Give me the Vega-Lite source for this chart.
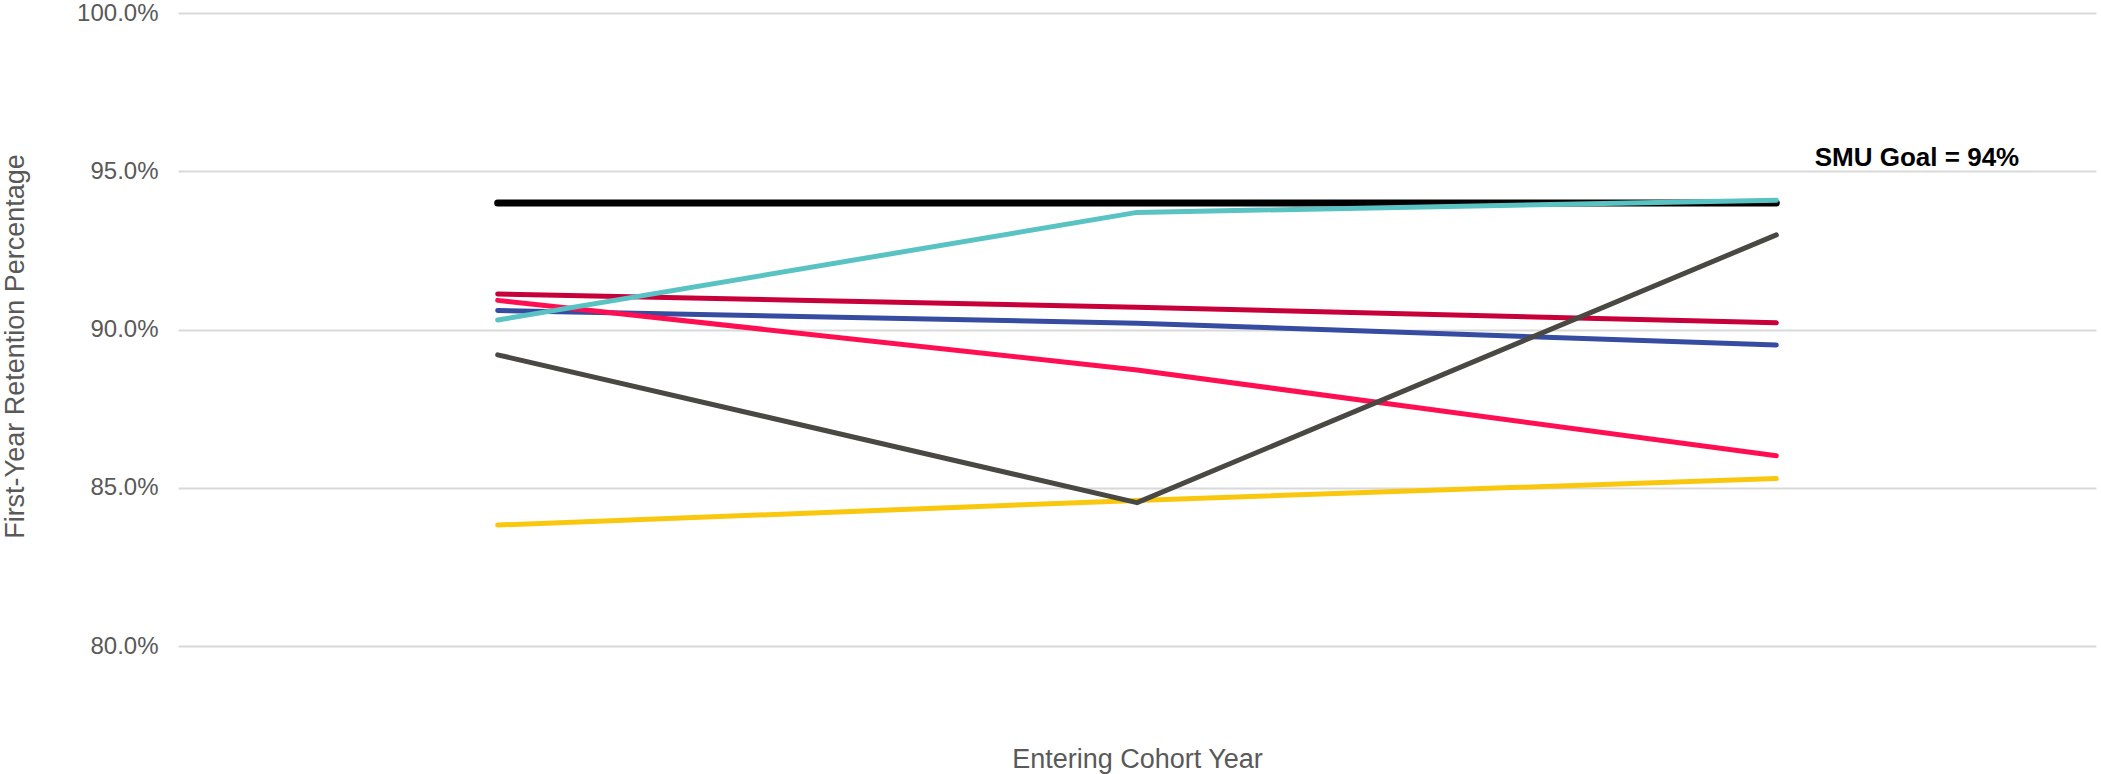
{
  "$schema": "https://vega.github.io/schema/vega-lite/v6.json",
  "width": 1918,
  "height": 633,
  "autosize": {"type": "none"},
  "padding": {"left": 178, "top": 13, "right": 5, "bottom": 128},
  "background": "white",
  "config": {
    "view": {"stroke": null},
    "font": "Liberation Sans"
  },
  "data": {
    "values": [
      {"group": "SMU Goal", "cohort": 2021, "retention": 0.94},
      {"group": "SMU Goal", "cohort": 2022, "retention": 0.94},
      {"group": "SMU Goal", "cohort": 2023, "retention": 0.94},
      {"group": "Group 1", "cohort": 2021, "retention": 0.9112},
      {"group": "Group 1", "cohort": 2022, "retention": 0.9070},
      {"group": "Group 1", "cohort": 2023, "retention": 0.9021},
      {"group": "Group 2", "cohort": 2021, "retention": 0.9060},
      {"group": "Group 2", "cohort": 2022, "retention": 0.9020},
      {"group": "Group 2", "cohort": 2023, "retention": 0.8951},
      {"group": "Group 3", "cohort": 2021, "retention": 0.9092},
      {"group": "Group 3", "cohort": 2022, "retention": 0.8872},
      {"group": "Group 3", "cohort": 2023, "retention": 0.8601},
      {"group": "Group 4", "cohort": 2021, "retention": 0.8382},
      {"group": "Group 4", "cohort": 2022, "retention": 0.8460},
      {"group": "Group 4", "cohort": 2023, "retention": 0.8529},
      {"group": "Group 5", "cohort": 2021, "retention": 0.8920},
      {"group": "Group 5", "cohort": 2022, "retention": 0.8453},
      {"group": "Group 5", "cohort": 2023, "retention": 0.9299},
      {"group": "Group 6", "cohort": 2021, "retention": 0.9030},
      {"group": "Group 6", "cohort": 2022, "retention": 0.9370},
      {"group": "Group 6", "cohort": 2023, "retention": 0.9408}
    ]
  },
  "encoding": {
    "x": {
      "field": "cohort",
      "type": "quantitative",
      "scale": {"domain": [2020.5, 2023.5], "nice": false, "zero": false},
      "axis": {
        "title": "Entering Cohort Year",
        "labels": false,
        "ticks": false,
        "domain": false,
        "grid": false,
        "titleFont": "Liberation Sans",
        "titleFontSize": 27,
        "titleFontWeight": "normal",
        "titleColor": "#595959",
        "titleBaseline": "alphabetic",
        "titleY": 121
      }
    },
    "y": {
      "field": "retention",
      "type": "quantitative",
      "scale": {"domain": [0.8, 1.0], "nice": false, "zero": false},
      "axis": {
        "title": "First-Year Retention Percentage",
        "values": [0.8, 0.85, 0.9, 0.95, 1.0],
        "format": ".1%",
        "domain": false,
        "ticks": false,
        "grid": true,
        "gridColor": "#D9D9D9",
        "gridWidth": 2,
        "labelFont": "Liberation Sans",
        "labelFontSize": 24,
        "labelColor": "#595959",
        "labelPadding": 20,
        "titleFont": "Liberation Sans",
        "titleFontSize": 27,
        "titleFontWeight": "normal",
        "titleColor": "#595959",
        "titleAngle": -90,
        "titleAlign": "center",
        "titleBaseline": "alphabetic",
        "titleX": -155,
        "titleY": 333
      }
    },
    "color": {
      "field": "group",
      "type": "nominal",
      "scale": {
        "domain": ["SMU Goal", "Group 1", "Group 2", "Group 3", "Group 4", "Group 5", "Group 6"],
        "range": ["#000000", "#C8003A", "#354CA1", "#FF0F52", "#F9C80E", "#4A4843", "#59C3C3"]
      },
      "legend": null
    }
  },
  "layer": [
    {
      "transform": [{"filter": "datum.group === 'SMU Goal'"}],
      "mark": {"type": "line", "strokeWidth": 7, "strokeCap": "round", "strokeJoin": "round"}
    },
    {
      "transform": [{"filter": "datum.group !== 'SMU Goal'"}],
      "mark": {"type": "line", "strokeWidth": 5, "strokeCap": "round", "strokeJoin": "round"}
    },
    {
      "transform": [{"filter": "datum.group === 'SMU Goal' && datum.cohort === 2023"}],
      "mark": {
        "type": "text",
        "text": "SMU Goal = 94%",
        "font": "Liberation Sans",
        "fontSize": 26,
        "fontWeight": "bold",
        "align": "center",
        "baseline": "alphabetic"
      },
      "encoding": {
        "x": {"datum": 2023.22, "type": "quantitative"},
        "y": {"datum": 0.9517, "type": "quantitative"},
        "color": {"value": "#000000"}
      }
    }
  ]
}
